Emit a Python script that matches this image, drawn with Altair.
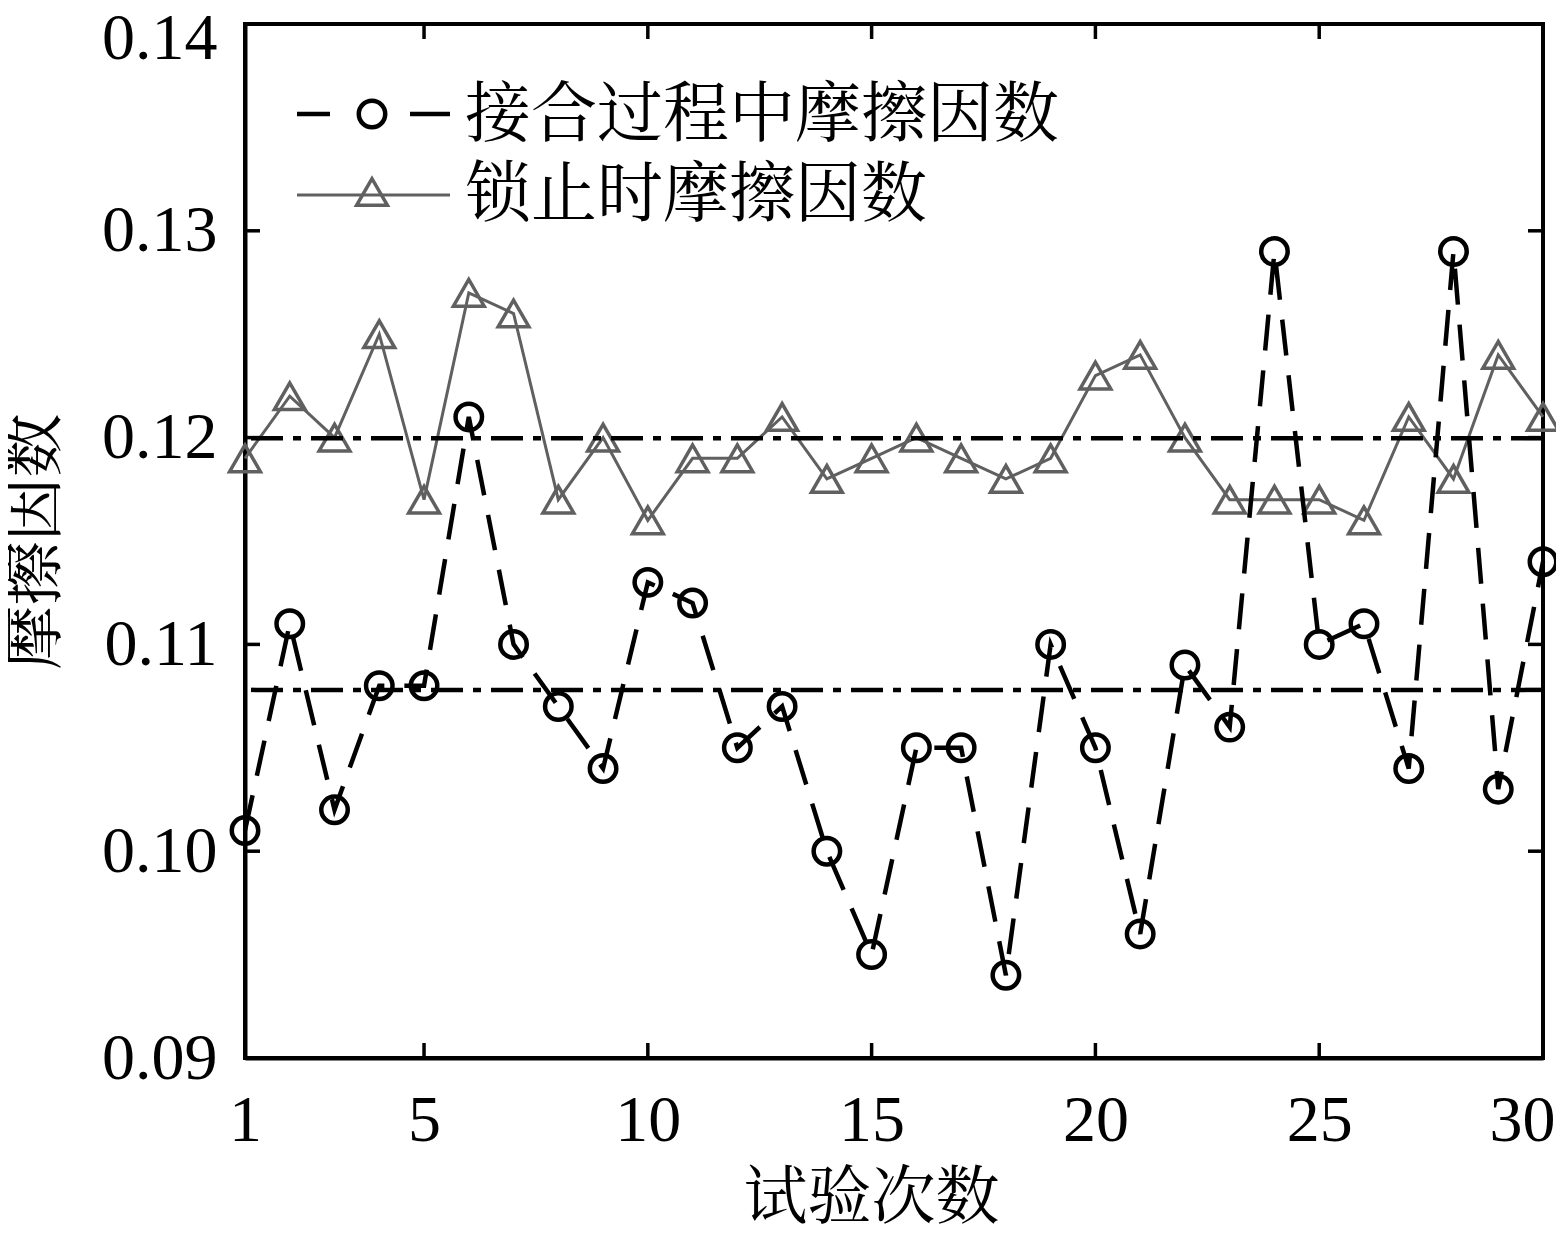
import altair as alt
import pandas as pd
import numpy as np

trials = list(range(1, 31))
engage = [0.101, 0.111, 0.102, 0.108, 0.108, 0.121, 0.110, 0.107, 0.104, 0.113,
          0.112, 0.105, 0.107, 0.100, 0.095, 0.105, 0.105, 0.094, 0.110, 0.105,
          0.096, 0.109, 0.106, 0.129, 0.110, 0.111, 0.104, 0.129, 0.103, 0.114]
lock = [0.119, 0.122, 0.120, 0.125, 0.117, 0.127, 0.126, 0.117, 0.120, 0.116,
        0.119, 0.119, 0.121, 0.118, 0.119, 0.120, 0.119, 0.118, 0.119, 0.123,
        0.124, 0.120, 0.117, 0.117, 0.117, 0.116, 0.121, 0.118, 0.124, 0.121]
x_ticks = [1, 5, 10, 15, 20, 25, 30]
y_ticks = [0.09, 0.10, 0.11, 0.12, 0.13, 0.14]
label_engage = "接合过程中摩擦因数"
label_lock = "锁止时摩擦因数"
x_title = "试验次数"
y_title = "摩擦因数"

W, H = 1298, 1034
FONT = "Liberation Serif, Times New Roman, Noto Serif CJK SC, Noto Sans CJK SC"
FS = 66
GRAY = "#606060"

df_e = pd.DataFrame({"trial": trials, "value": engage})
df_l = pd.DataFrame({"trial": trials, "value": lock})
means = pd.DataFrame({"m": [float(np.mean(engage)), float(np.mean(lock))]})
dfx = pd.DataFrame({"v": x_ticks})
dfy = pd.DataFrame({"v": y_ticks})
one = pd.DataFrame({"a": [0]})

xs = alt.Scale(domain=[1, 30], nice=False, zero=False)
ys = alt.Scale(domain=[0.09, 0.14], nice=False, zero=False)

xaxis = alt.Axis(values=x_ticks, title=x_title, ticks=False, grid=False,
                 labelFont=FONT, labelFontSize=FS, labelColor="black", labelPadding=30,
                 labelOffset={"condition": {"test": "datum.value >= 30", "value": -21}, "value": 0},
                 titleFont=FONT, titleFontSize=64, titleColor="black", titleFontWeight="normal",
                 titleX=626, titleY=140, titleBaseline="middle", titleAlign="center",
                 domainColor="black", domainWidth=4, labelFlush=False)
yaxis = alt.Axis(values=y_ticks, title=y_title, format=".2f", ticks=False, grid=False,
                 labelFont=FONT, labelFontSize=FS, labelColor="black", labelPadding=28,
                 labelOffset={"condition": {"test": "datum.value > 0.139", "value": 14}, "value": 0},
                 titleFont=FONT, titleFontSize=64, titleColor="black", titleFontWeight="normal",
                 titlePadding=34, domainColor="black", domainWidth=4, labelFlush=False)

lock_line = alt.Chart(df_l).mark_line(color=GRAY, strokeWidth=3).encode(
    x=alt.X("trial:Q", scale=xs, axis=xaxis),
    y=alt.Y("value:Q", scale=ys, axis=yaxis),
)
lock_pts = alt.Chart(df_l).mark_point(shape="triangle-up", filled=False, size=950,
                                      strokeWidth=3.5, color=GRAY, opacity=1).encode(
    x=alt.X("trial:Q", scale=xs), y=alt.Y("value:Q", scale=ys))
eng_line = alt.Chart(df_e).mark_line(color="black", strokeWidth=4.5, strokeDash=[36, 20]).encode(
    x=alt.X("trial:Q", scale=xs), y=alt.Y("value:Q", scale=ys))
eng_pts = alt.Chart(df_e).mark_point(shape="circle", filled=False, size=700,
                                     strokeWidth=4.5, color="black", opacity=1).encode(
    x=alt.X("trial:Q", scale=xs), y=alt.Y("value:Q", scale=ys))
mean_rules = alt.Chart(means).mark_rule(color="black", strokeWidth=4.5,
                                        strokeDash=[32, 10, 8, 10]).encode(
    y=alt.Y("m:Q", scale=ys))

tick_style = dict(color="black", strokeWidth=3.5)
xt_bot = alt.Chart(dfx).mark_rule(**tick_style).encode(
    x=alt.X("v:Q", scale=xs), y=alt.value(H), y2=alt.value(H - 15))
xt_top = alt.Chart(dfx).mark_rule(**tick_style).encode(
    x=alt.X("v:Q", scale=xs), y=alt.value(0), y2=alt.value(15))
yt_left = alt.Chart(dfy).mark_rule(**tick_style).encode(
    y=alt.Y("v:Q", scale=ys), x=alt.value(0), x2=alt.value(15))
yt_right = alt.Chart(dfy).mark_rule(**tick_style).encode(
    y=alt.Y("v:Q", scale=ys), x=alt.value(W), x2=alt.value(W - 15))

# legend
r1, r2 = 90, 168
leg_e_line = alt.Chart(one).mark_rule(color="black", strokeWidth=4.5,
                                      strokeDash=[33, 80, 40, 200]).encode(
    x=alt.value(52), x2=alt.value(205), y=alt.value(r1))
leg_e_pt = alt.Chart(one).mark_point(shape="circle", filled=False, size=700,
                                     strokeWidth=4.5, color="black", opacity=1).encode(
    x=alt.value(127), y=alt.value(r1))
leg_e_txt = alt.Chart(one).mark_text(text=label_engage, font=FONT, fontSize=FS, align="left",
                                     baseline="middle", color="black").encode(
    x=alt.value(220), y=alt.value(r1 + 2))
leg_l_line = alt.Chart(one).mark_rule(color=GRAY, strokeWidth=3).encode(
    x=alt.value(52), x2=alt.value(205), y=alt.value(r2 + 3))
leg_l_pt = alt.Chart(one).mark_point(shape="triangle-up", filled=False, size=950,
                                     strokeWidth=3.5, color=GRAY, opacity=1).encode(
    x=alt.value(127), y=alt.value(r2))
leg_l_txt = alt.Chart(one).mark_text(text=label_lock, font=FONT, fontSize=FS, align="left",
                                     baseline="middle", color="black").encode(
    x=alt.value(220), y=alt.value(r2 + 4))

chart = alt.layer(
    lock_line, lock_pts, eng_line, eng_pts, mean_rules,
    xt_bot, xt_top, yt_left, yt_right,
    leg_e_line, leg_e_pt, leg_e_txt, leg_l_line, leg_l_pt, leg_l_txt,
).properties(
    width=W, height=H,
    autosize=alt.AutoSizeParams(type="none"),
    padding={"left": 237, "top": 16, "right": 13, "bottom": 172},
    background="white",
).configure_view(stroke="black", strokeWidth=4)

chart.save("out.html", embed_options={"renderer": "svg", "actions": False})
